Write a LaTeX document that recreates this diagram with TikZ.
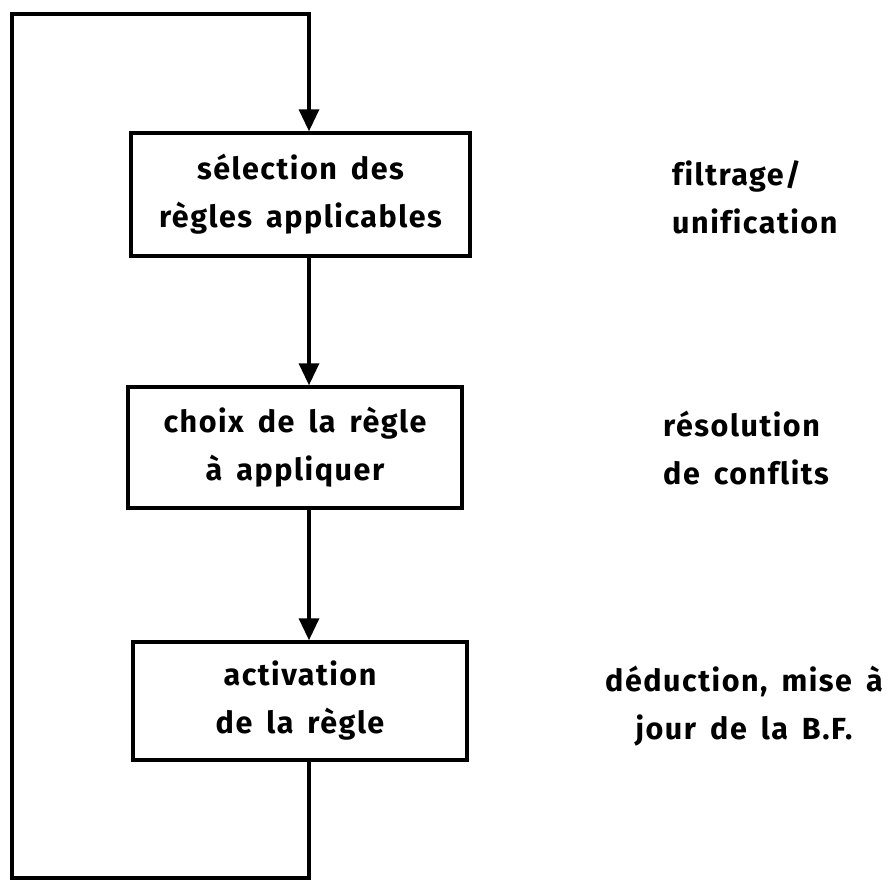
\documentclass[tikz,border=0pt]{standalone}
\usepackage{fontspec}
\setmainfont{Fira Sans}[LetterSpace=5, Ligatures={NoCommon}, WordSpace=1.6]
\usetikzlibrary{arrows.meta}
\tikzset{
  box/.style={draw, line width=3.5pt, rectangle, align=center, inner sep=0pt},
  lab/.style={align=left, anchor=west, inner sep=0pt},
  arr/.style={line width=3.5pt, -{Triangle[length=22pt,width=20pt]}},
}
\begin{document}
\begin{tikzpicture}[x=1pt,y=-1pt, font=\bfseries\fontsize{30.5}{48}\selectfont]
\useasboundingbox (0,0) rectangle (895,881);
\node[box, minimum width=339pt, minimum height=123pt] (b1) at (300.5,194.5) {sélection des\\règles applicables};
\node[box, minimum width=334pt, minimum height=121pt] (b2) at (295,447.5) {choix de la règle\\à appliquer};
\node[box, minimum width=334pt, minimum height=118pt] (b3) at (300,701) {activation\\de la règle};
\node[lab] (l1) at (672,197) {filtrage/\\unification};
\node[lab] (l2) at (663,448) {résolution\\de conflits};
\node[lab, align=center, anchor=center] (l3) at (744,706) {déduction, mise à\\jour de la B.F.};
\coordinate (xl) at (309,0);
\coordinate (tl) at (12,14);
\coordinate (bl) at (12,878);
\draw[arr] (b1.south -| xl) -- (b2.north -| xl);
\draw[arr] (b2.south -| xl) -- (b3.north -| xl);
\draw[arr] (b3.south -| xl) -- (xl |- bl) -- (bl) -- (tl) -- (tl -| xl) -- (b1.north -| xl);
\end{tikzpicture}
\end{document}
